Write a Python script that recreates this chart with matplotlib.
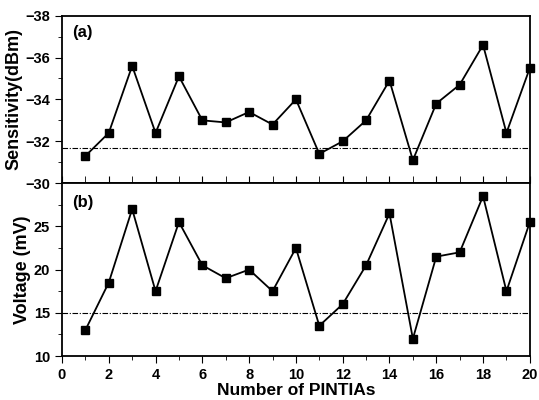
import numpy as np
import matplotlib.pyplot as plt
from matplotlib.ticker import MultipleLocator

plt.rcParams['font.family'] = ['Liberation Sans', 'DejaVu Sans']
plt.rcParams['font.weight'] = 'bold'

# data
n_pintia = list(range(1, 21))
sensitivity = [-31.3, -32.4, -35.6, -32.4, -35.1, -33.0, -32.9, -33.4, -32.8, -34.0,
               -31.4, -32.0, -33.0, -34.9, -31.1, -33.8, -34.7, -36.6, -32.4, -35.5]
voltage = [13.0, 18.5, 27.0, 17.5, 25.5, 20.5, 19.0, 20.0, 17.5, 22.5,
           13.5, 16.0, 20.5, 26.5, 12.0, 21.5, 22.0, 28.5, 17.5, 25.5]
sens_ref = -31.7
volt_ref = 15.0

fig = plt.figure(figsize=(5.39, 4.0), dpi=100)
ax1 = fig.add_axes([0.115, 0.542, 0.868, 0.419])
ax2 = fig.add_axes([0.115, 0.11, 0.868, 0.432])

dash = (0, (5, 1.5, 1, 1.5))

# (a) sensitivity
ax1.plot(n_pintia, sensitivity, color='black', lw=1.3, marker='s', ms=5.8,
         clip_on=False, zorder=3)
ax1.axhline(sens_ref, color='black', lw=0.8, ls=dash)
ax1.set_xlim(0, 20)
ax1.set_ylim(-30, -38)
ax1.yaxis.set_major_locator(MultipleLocator(2))
ax1.yaxis.set_minor_locator(MultipleLocator(1))
ax1.xaxis.set_major_locator(MultipleLocator(2))
ax1.xaxis.set_minor_locator(MultipleLocator(1))
ax1.tick_params(axis='x', which='both', direction='in', labelbottom=False, length=5)
ax1.tick_params(axis='y', which='major', direction='out', length=5)
ax1.tick_params(axis='y', which='minor', direction='out', length=3)
ax1.set_ylabel('Sensitivity(dBm)', fontsize=13, fontweight='bold', labelpad=2)
ax1.text(0.45, -37.0, '(a)', fontsize=12, fontweight='bold')

# (b) voltage
ax2.plot(n_pintia, voltage, color='black', lw=1.3, marker='s', ms=5.8,
         clip_on=False, zorder=3)
ax2.axhline(volt_ref, color='black', lw=0.8, ls=dash)
ax2.set_xlim(0, 20)
ax2.set_ylim(10, 30)
ax2.set_yticks([10, 15, 20, 25])
ax2.yaxis.set_minor_locator(MultipleLocator(2.5))
ax2.xaxis.set_major_locator(MultipleLocator(2))
ax2.xaxis.set_minor_locator(MultipleLocator(1))
ax2.tick_params(axis='both', which='major', direction='out', length=5)
ax2.tick_params(axis='both', which='minor', direction='out', length=3)
ax2.set_ylabel('Voltage (mV)', fontsize=13, fontweight='bold', labelpad=2)
ax2.set_xlabel('Number of PINTIAs', fontsize=12.5, fontweight='bold', labelpad=1)
ax2.text(0.45, 27.3, '(b)', fontsize=12, fontweight='bold')

for ax in (ax1, ax2):
    for s in ax.spines.values():
        s.set_linewidth(1.3)
    for lab in ax.get_xticklabels() + ax.get_yticklabels():
        lab.set_fontsize(10.5)
        lab.set_fontweight('bold')

fig.savefig('out.png', dpi=100)
